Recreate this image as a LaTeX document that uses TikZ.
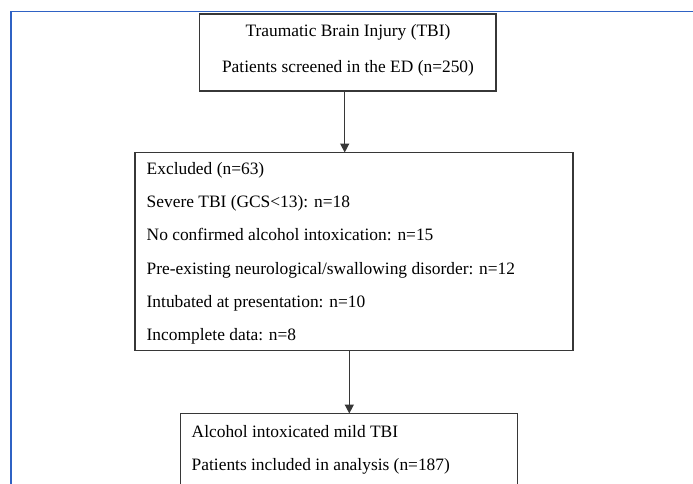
\documentclass[tikz,border=0pt]{standalone}
\usepackage{fontspec}
\setmainfont{Liberation Serif}
\usetikzlibrary{arrows.meta}
\definecolor{boxgray}{RGB}{55,55,55}
\definecolor{frameblue}{RGB}{47,98,196}
\begin{document}
\begin{tikzpicture}[x=1pt,y=-1pt,
  box/.style={draw=boxgray,line width=1.6pt,inner sep=0pt,outer sep=0pt,anchor=north west},
  txt/.style={font=\fontsize{17.4}{20}\selectfont,inner sep=0pt,text=black},
  ltxt/.style={txt,anchor=base west},
  ctxt/.style={txt,anchor=base},
  conn/.style={draw=boxgray,line width=1.5pt,-{Triangle[width=9pt,length=9pt]}},
  frame/.style={draw=frameblue,line width=1.7pt}]
\clip (0,0) rectangle (693,483);
% outer frame
\coordinate (fbl) at (10.7,490);
\coordinate (ftl) at (10.7,11.5);
\coordinate (ftr) at (700,11.5);
\draw[frame] (fbl) -- (ftl) -- (ftr);
% boxes
\node[box,minimum width=296.5pt,minimum height=77pt] (b1) at (199.5,14) {};
\node[box,minimum width=438pt,minimum height=198pt] (b2) at (135,152.5) {};
\node[box,minimum width=337pt,minimum height=100pt] (b3) at (180.5,413.5) {};
% texts
\node[ctxt] (t11) at (348,36) {Traumatic Brain Injury (TBI)};
\node[ctxt] (t12) at (348,72) {Patients screened in the ED (n=250)};
\node[ltxt] (t21) at (146.5,174.3) {Excluded (n=63)};
\node[ltxt] (t22) at (146.5,207.6) {Severe TBI (GCS<13): n=18};
\node[ltxt] (t23) at (146.5,240.9) {No confirmed alcohol intoxication: n=15};
\node[ltxt] (t24) at (146.5,274.2) {Pre-existing neurological/swallowing disorder: n=12};
\node[ltxt] (t25) at (146.5,307.5) {Intubated at presentation: n=10};
\node[ltxt] (t26) at (146.5,340.8) {Incomplete data: n=8};
\node[ltxt] (t31) at (191.5,437.7) {Alcohol intoxicated mild TBI};
\node[ltxt] (t32) at (191.5,470) {Patients included in analysis (n=187)};
% connectors
\coordinate (a1) at (344.7,0);
\coordinate (a2) at (349.3,0);
\draw[conn] (b1.south -| a1) -- (b2.north -| a1);
\draw[conn] (b2.south -| a2) -- (b3.north -| a2);
\end{tikzpicture}
\end{document}
